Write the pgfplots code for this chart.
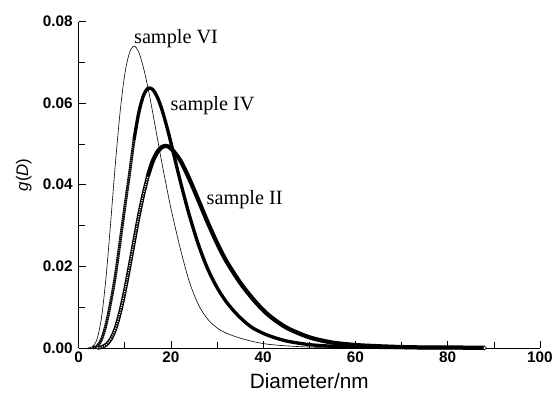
\documentclass[border=0pt]{standalone}
\usepackage{fontspec}
\setmainfont{Liberation Sans}
\newfontfamily\seriffont{Liberation Serif}
\usepackage{pgfplots}
\pgfplotsset{compat=1.18}
\usepackage{pgfplotstable}

\pgfplotstableread{
D g
2 0.0000
3 0.0003
4 0.0022
5 0.0078
6 0.0181
7 0.0316
8 0.0457
9 0.0580
10 0.0671
11 0.0723
12 0.0740
13 0.0726
14 0.0689
15 0.0639
16 0.0580
17 0.0518
18 0.0456
19 0.0398
20 0.0342
22 0.0245
24 0.0162
26 0.0105
28 0.0070
30 0.0049
32 0.0036
35 0.0024
38 0.0015
41 0.0009
45 0.0005
50 0.0002
55 0.0001
60 0.0000
88 0.0000
}\sampleVI

\pgfplotstableread{
D g
3 0.0000
4 0.0004
5 0.0022
6 0.0060
7 0.0115
8 0.0180
9 0.0262
10 0.0345
11 0.0425
12 0.0510
}\sampleIVrise

\pgfplotstableread{
D g
12 0.0510
13 0.0575
14 0.0617
15 0.0636
16 0.0634
17 0.0616
18 0.0586
19 0.0547
20 0.0503
22 0.0410
24 0.0325
26 0.0252
28 0.0193
30 0.0148
32 0.0113
34 0.0086
36 0.0064
38 0.0047
41 0.0031
45 0.0017
50 0.0008
55 0.0004
60 0.0002
70 0.0001
88 0.0000
}\sampleIVrest

\pgfplotstableread{
D g
4 0.0000
5 0.0002
6 0.0008
7 0.0022
8 0.0048
9 0.0088
10 0.0139
11 0.0198
12 0.0260
13 0.0321
14 0.0375
15 0.0421
}\sampleIIrise

\pgfplotstableread{
D g
15 0.0421
16 0.0456
17 0.0479
18 0.0492
19 0.0495
20 0.0489
22 0.0460
24 0.0414
26 0.0361
28 0.0307
30 0.0257
32 0.0213
35 0.0160
38 0.0117
41 0.0082
45 0.0050
50 0.0026
55 0.0013
60 0.0007
65 0.0004
70 0.0002
75 0.0001
80 0.0001
88 0.0000
}\sampleIIrest

\begin{document}
\begin{tikzpicture}
\begin{axis}[
  scale only axis, width=465bp, height=329bp,
  at={(0,0)}, anchor=south west,
  xmin=0, xmax=100, ymin=0, ymax=0.08,
  axis x line*=bottom, axis y line*=left,
  xtick={0,20,40,60,80,100}, minor x tick num=1,
  ytick={0,0.02,0.04,0.06,0.08}, minor y tick num=1,
  tick align=inside, major tick length=7bp, minor tick length=6bp,
  tick style={black, line width=0.6pt},
  axis line style={line width=0.6pt},
  scaled y ticks=false,
  /pgf/number format/assume math mode=true,
  yticklabel style={xshift=-2.5bp, /pgf/number format/.cd, fixed, fixed zerofill, precision=2},
  ticklabel style={font=\fontsize{15.5}{16}\selectfont\bfseries},
  xlabel={Diameter/nm}, ylabel={\textit{g}(\textit{D})},
  xlabel style={font=\fontsize{21}{22}\selectfont, at={(axis description cs:0.5,-0.1255)}, anchor=base},
  ylabel style={font=\fontsize{17}{18}\selectfont, at={(axis description cs:-0.119,0.53)}, anchor=center},
  clip=false,
]
\addplot[black, line width=0.6pt, smooth] table[x=D, y=g] {\sampleVI};
\addplot[black, line width=3.0pt, smooth, dash pattern=on 1.6pt off 0.5pt] table[x=D, y=g] {\sampleIVrise};
\addplot[black, line width=3.4pt, smooth] table[x=D, y=g] {\sampleIVrest};
\addplot[black, line width=3.8pt, smooth] table[x=D, y=g] {\sampleIIrise};
\addplot[white, line width=1.2pt, smooth, dash pattern=on 1.0pt off 1.4pt] table[x=D, y=g] {\sampleIIrise};
\addplot[black, line width=4.3pt, smooth] table[x=D, y=g] {\sampleIIrest};
\addplot[only marks, mark=*, mark size=1.9pt, mark options={fill=white, draw=black, line width=0.6pt}] coordinates {(88,0.0000)};
\node[anchor=base west, font=\seriffont\fontsize{20.5}{21}\selectfont, inner sep=0pt] at (axis cs:11.98,0.0746) {sample VI};
\node[anchor=base west, font=\seriffont\fontsize{20.5}{21}\selectfont, inner sep=0pt] at (axis cs:19.9,0.0583) {sample IV};
\node[anchor=base west, font=\seriffont\fontsize{20.5}{21}\selectfont, inner sep=0pt] at (axis cs:27.7,0.0352) {sample II};
\end{axis}
\useasboundingbox (-79.3bp,-43.3bp) rectangle (476.7bp,350.7bp);
\end{tikzpicture}
\end{document}
